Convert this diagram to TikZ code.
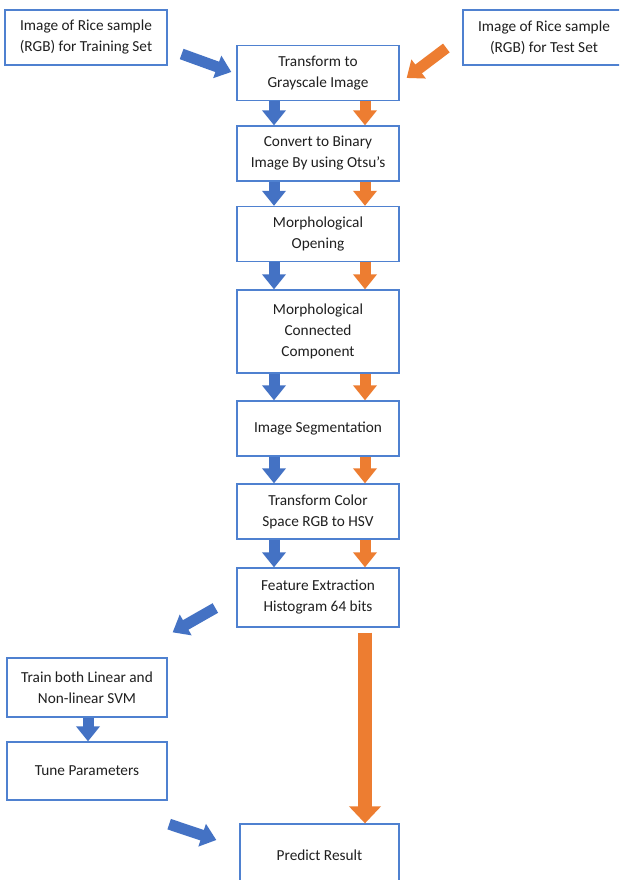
\documentclass[tikz,border=0pt]{standalone}
\usepackage{fontspec}
\setmainfont{Carlito}
\usetikzlibrary{arrows.meta, calc}

\definecolor{boxblue}{HTML}{4F81D0}
\definecolor{arrblue}{HTML}{4472C4}
\definecolor{arrorange}{HTML}{ED7D31}

\tikzset{
    box/.style={draw=boxblue, line width=1.3pt, fill=white, text=black!88,
        minimum width=162pt, minimum height=55pt, align=center, inner sep=2pt,
        font=\fontsize{15.3}{21}\selectfont},
    bluearr/.style={draw=arrblue, line width=11pt, -{Triangle[width=23pt,length=15pt]}},
    orangearr/.style={draw=arrorange, line width=11pt, -{Triangle[width=23pt,length=15pt]}}
}

\begin{document}
\begin{tikzpicture}[x=1pt,y=-1pt]
        \clip (0,0) rectangle (619,880);
        \fill[white] (0,0) rectangle (619,880);

        \node[box] (trainimg) at (86,37.5) {Image of Rice sample\\(RGB) for Training Set};
        \node[box] (testimg) at (544,37.5) {Image of Rice sample\\(RGB) for Test Set};

        \node[box] (gray) at (318,73) {Transform to\\Grayscale Image};
        \node[box] (binary) at (318,153.5) {Convert to Binary\\Image By using Otsu’s};
        \node[box] (opening) at (318,234) {Morphological\\Opening};
        \node[box, minimum height=83pt] (connected) at (318,331.5) {Morphological\\Connected\\Component};
        \node[box] (segment) at (318,428.5) {Image Segmentation};
        \node[box] (colorsp) at (318,511.5) {Transform Color\\Space RGB to HSV};
        \node[box, minimum height=59pt] (feature) at (318,597.5) {Feature Extraction\\Histogram 64 bits};

        \node[box, minimum width=160pt, minimum height=59pt] (trainsvm) at (87,687.5) {Train both Linear and\\Non-linear SVM};
        \node[box, minimum width=160pt, minimum height=58pt] (tune) at (87,771) {Tune Parameters};
        \node[box, minimum width=159pt, minimum height=62pt] (predict) at (319.5,855) {Predict Result};

        \coordinate (bluex) at (274,0);
        \coordinate (orangex) at (365,0);

        \foreach \a/\b in {gray/binary, binary/opening, opening/connected,
                connected/segment, segment/colorsp, colorsp/feature} {
            \draw[bluearr] (\a.south -| bluex) -- (\b.north -| bluex);
            \draw[orangearr] (\a.south -| orangex) -- (\b.north -| orangex);
        }

        \coordinate (trainout) at ($(trainimg.east)+(14,16.5)$);
        \coordinate (grayinl) at ($(gray.west)+(-5,-1)$);
        \coordinate (testout) at ($(testimg.west)+(-16,10.5)$);
        \coordinate (grayinr) at ($(gray.east)+(7,5)$);
        \coordinate (featout) at ($(feature.west)+(-21,10.5)$);
        \coordinate (svmin) at ($(trainsvm.north east)+(5,-25)$);
        \coordinate (tuneout) at ($(tune.south east)+(1.5,23.5)$);
        \coordinate (predin) at ($(predict.west)+(-23,-15)$);

        \draw[bluearr] (trainout) -- (grayinl);
        \draw[orangearr] (testout) -- (grayinr);
        \draw[bluearr] (featout) -- (svmin);
        \draw[bluearr] (tuneout) -- (predin);

        \draw[bluearr] ($(trainsvm.south)+(1,0)$) -- ($(tune.north)+(1,0)$);
        \draw[orangearr, line width=13.5pt, -{Triangle[width=31pt,length=17pt]}]
            ($(feature.south -| orangex)+(0,5)$) -- (predict.north -| orangex);
    \end{tikzpicture}
\end{document}
